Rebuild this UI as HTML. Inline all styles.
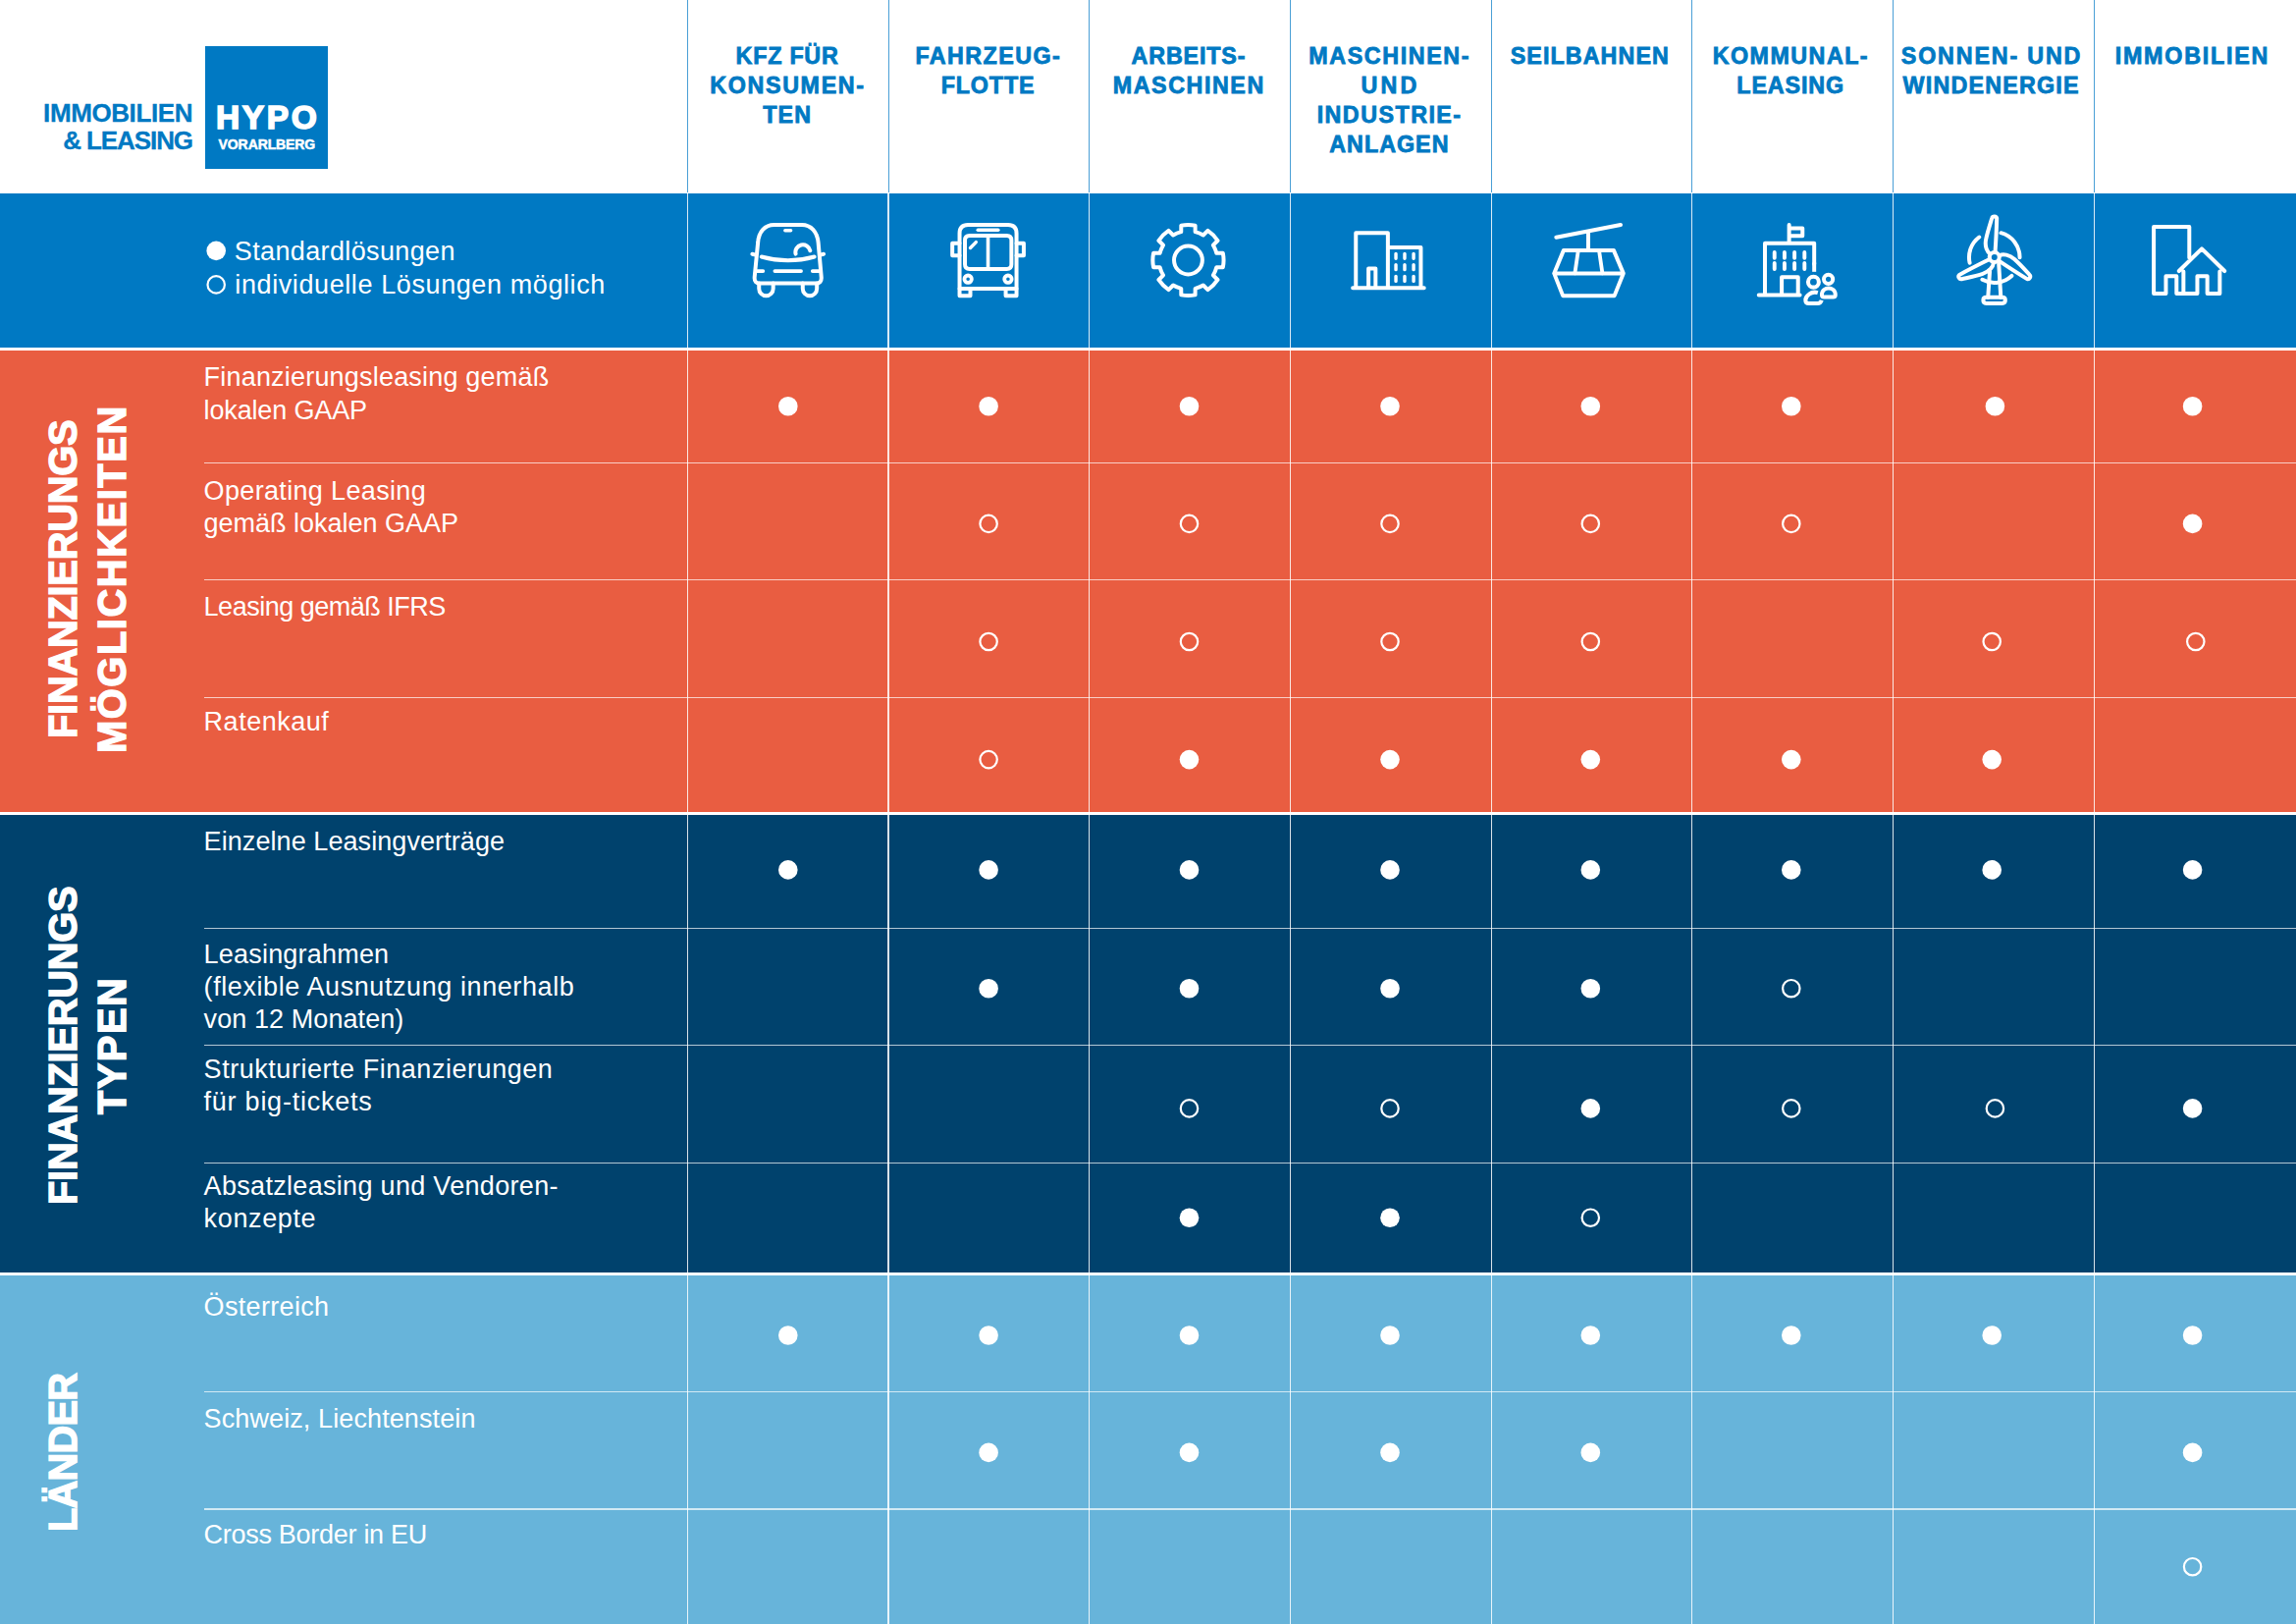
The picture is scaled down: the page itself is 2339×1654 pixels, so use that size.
<!DOCTYPE html>
<html lang="de"><head><meta charset="utf-8"><title>Hypo Vorarlberg Immobilien &amp; Leasing</title>
<style>
html,body{margin:0;padding:0;background:#fff}
body{width:2339px;height:1654px;font-family:"Liberation Sans",sans-serif}
#page{position:relative;width:2339px;height:1654px;overflow:hidden;background:#fff}
.a{position:absolute}
.band{position:absolute;left:0;width:2339px}
.t{position:absolute;white-space:pre;color:#fff;font-size:27px;line-height:33px;height:33px}
.h{position:absolute;white-space:pre;color:#0079C3;font-weight:700;font-size:23.3px;line-height:30px;text-align:center;-webkit-text-stroke:0.8px #0079C3}
.v{position:absolute;white-space:pre;color:#fff;font-weight:700;font-size:39.8px;line-height:39.8px;transform-origin:0 0;transform:rotate(-90deg);-webkit-text-stroke:1.4px #fff}
.vl{position:absolute;width:1.3px;background:rgba(255,255,255,.85)}
.hl{position:absolute;height:1.3px;background:rgba(255,255,255,.7);left:208.3px;right:0}
svg{position:absolute;left:0;top:0}

</style></head><body><div id="page">
<div class="band" style="top:197.4px;height:156.8px;background:#0079C3"></div>
<div class="band" style="top:357.2px;height:469.8px;background:#E95D41"></div>
<div class="band" style="top:830px;height:466.3px;background:#00426D"></div>
<div class="band" style="top:1299.3px;height:354.7px;background:#67B4DA"></div>
<div class="a" style="left:699.8px;top:0;width:1.2px;height:196.4px;background:#4a9fd6"></div>
<div class="vl" style="left:699.8px;top:197.4px;height:1456.6px"></div>
<div class="a" style="left:904.5px;top:0;width:1.2px;height:196.4px;background:#4a9fd6"></div>
<div class="vl" style="left:904.4px;top:197.4px;height:1456.6px"></div>
<div class="a" style="left:1109.2px;top:0;width:1.2px;height:196.4px;background:#4a9fd6"></div>
<div class="vl" style="left:1109.1px;top:197.4px;height:1456.6px"></div>
<div class="a" style="left:1313.9px;top:0;width:1.2px;height:196.4px;background:#4a9fd6"></div>
<div class="vl" style="left:1313.8px;top:197.4px;height:1456.6px"></div>
<div class="a" style="left:1518.6px;top:0;width:1.2px;height:196.4px;background:#4a9fd6"></div>
<div class="vl" style="left:1518.5px;top:197.4px;height:1456.6px"></div>
<div class="a" style="left:1723.3px;top:0;width:1.2px;height:196.4px;background:#4a9fd6"></div>
<div class="vl" style="left:1723.2px;top:197.4px;height:1456.6px"></div>
<div class="a" style="left:1928.0px;top:0;width:1.2px;height:196.4px;background:#4a9fd6"></div>
<div class="vl" style="left:1927.9px;top:197.4px;height:1456.6px"></div>
<div class="a" style="left:2132.7px;top:0;width:1.2px;height:196.4px;background:#4a9fd6"></div>
<div class="vl" style="left:2132.6px;top:197.4px;height:1456.6px"></div>
<div class="hl" style="top:470.5px"></div>
<div class="hl" style="top:589.9px"></div>
<div class="hl" style="top:709.6px"></div>
<div class="hl" style="top:944.6px"></div>
<div class="hl" style="top:1064.1px"></div>
<div class="hl" style="top:1183.6px"></div>
<div class="hl" style="top:1416.6px"></div>
<div class="hl" style="top:1536.4px"></div>
<div class="a" style="left:209px;top:46.7px;width:125px;height:125px;background:#0079C3"></div>
<div class="h" style="left:0.0px;top:101.2px;letter-spacing:-0.41px;font-size:26px;line-height:28px;height:28px;width:196px;text-align:right;-webkit-text-stroke:0.3px #0079C3;">IMMOBILIEN</div>
<div class="h" style="left:0.0px;top:129.4px;letter-spacing:-1.08px;font-size:26px;line-height:28px;height:28px;width:196px;text-align:right;-webkit-text-stroke:0.3px #0079C3;">&amp; LEASING</div>
<div class="h" style="left:219.9px;top:101.7px;letter-spacing:2.7px;font-size:33.5px;line-height:36px;height:36px;color:#fff;-webkit-text-stroke:1.6px #fff;text-align:left;">HYPO</div>
<div class="h" style="left:222.6px;top:139.4px;letter-spacing:-0.1px;font-size:14px;line-height:16px;height:16px;color:#fff;-webkit-text-stroke:0.5px #fff;text-align:left;">VORARLBERG</div>
<div class="h" style="left:699.7px;width:204px;top:42.1px;letter-spacing:0.76px;text-indent:0.76px">KFZ FÜR</div>
<div class="h" style="left:699.7px;width:204px;top:72.1px;letter-spacing:1.63px;text-indent:1.63px">KONSUMEN-</div>
<div class="h" style="left:699.7px;width:204px;top:102.1px;letter-spacing:1.12px;text-indent:1.12px">TEN</div>
<div class="h" style="left:904.1px;width:204px;top:42.1px;letter-spacing:1.42px;text-indent:1.42px">FAHRZEUG-</div>
<div class="h" style="left:904.1px;width:204px;top:72.1px;letter-spacing:0.85px;text-indent:0.85px">FLOTTE</div>
<div class="h" style="left:1108.5px;width:204px;top:42.1px;letter-spacing:0.83px;text-indent:0.83px">ARBEITS-</div>
<div class="h" style="left:1108.5px;width:204px;top:72.1px;letter-spacing:1.56px;text-indent:1.56px">MASCHINEN</div>
<div class="h" style="left:1312.9px;width:204px;top:42.1px;letter-spacing:1.6px;text-indent:1.6px">MASCHINEN-</div>
<div class="h" style="left:1312.9px;width:204px;top:72.1px;letter-spacing:3.21px;text-indent:3.21px">UND</div>
<div class="h" style="left:1312.9px;width:204px;top:102.1px;letter-spacing:1.46px;text-indent:1.46px">INDUSTRIE-</div>
<div class="h" style="left:1312.9px;width:204px;top:132.1px;letter-spacing:1.01px;text-indent:1.01px">ANLAGEN</div>
<div class="h" style="left:1517.3px;width:204px;top:42.1px;letter-spacing:1.07px;text-indent:1.07px">SEILBAHNEN</div>
<div class="h" style="left:1721.7px;width:204px;top:42.1px;letter-spacing:1.46px;text-indent:1.46px">KOMMUNAL-</div>
<div class="h" style="left:1721.7px;width:204px;top:72.1px;letter-spacing:0.87px;text-indent:0.87px">LEASING</div>
<div class="h" style="left:1926.1px;width:204px;top:42.1px;letter-spacing:1.82px;text-indent:1.82px">SONNEN- UND</div>
<div class="h" style="left:1926.1px;width:204px;top:72.1px;letter-spacing:1.2px;text-indent:1.2px">WINDENERGIE</div>
<div class="h" style="left:2130.5px;width:204px;top:42.1px;letter-spacing:1.75px;text-indent:1.75px">IMMOBILIEN</div>
<div class="t" style="left:238.8px;top:239.7px;letter-spacing:0.37px;">Standardlösungen</div>
<div class="t" style="left:239.3px;top:273.9px;letter-spacing:0.6px;">individuelle Lösungen möglich</div>
<div class="t" style="left:207.6px;top:368.2px;letter-spacing:0.196px;">Finanzierungsleasing gemäß</div>
<div class="t" style="left:207.6px;top:401.8px;letter-spacing:-0.152px;">lokalen GAAP</div>
<div class="t" style="left:207.6px;top:484.2px;letter-spacing:0.34px;">Operating Leasing</div>
<div class="t" style="left:207.6px;top:516.5px;letter-spacing:-0.019px;">gemäß lokalen GAAP</div>
<div class="t" style="left:207.6px;top:601.8px;letter-spacing:-0.499px;">Leasing gemäß IFRS</div>
<div class="t" style="left:207.6px;top:719.4px;letter-spacing:0.52px;">Ratenkauf</div>
<div class="t" style="left:207.6px;top:841.3px;letter-spacing:0.074px;">Einzelne Leasingverträge</div>
<div class="t" style="left:207.6px;top:955.8px;letter-spacing:0.2px;">Leasingrahmen</div>
<div class="t" style="left:207.6px;top:988.7px;letter-spacing:0.583px;">(flexible Ausnutzung innerhalb</div>
<div class="t" style="left:207.6px;top:1022.2px;letter-spacing:0.081px;">von 12 Monaten)</div>
<div class="t" style="left:207.6px;top:1073.4px;letter-spacing:0.539px;">Strukturierte Finanzierungen</div>
<div class="t" style="left:207.6px;top:1106.3px;letter-spacing:0.751px;">für big-tickets</div>
<div class="t" style="left:207.6px;top:1192.2px;letter-spacing:0.312px;">Absatzleasing und Vendoren-</div>
<div class="t" style="left:207.6px;top:1224.5px;letter-spacing:0.633px;">konzepte</div>
<div class="t" style="left:207.6px;top:1314.5px;letter-spacing:0.327px;">Österreich</div>
<div class="t" style="left:207.6px;top:1428.9px;letter-spacing:0.104px;">Schweiz, Liechtenstein</div>
<div class="t" style="left:207.6px;top:1546.5px;letter-spacing:-0.289px;">Cross Border in EU</div>
<div class="v" style="left:45.3px;top:752.0px;letter-spacing:-0.23px;font-size:39.8px;line-height:39.8px">FINANZIERUNGS</div>
<div class="v" style="left:95.2px;top:766.6px;letter-spacing:1.61px;font-size:39.8px;line-height:39.8px">MÖGLICHKEITEN</div>
<div class="v" style="left:45.3px;top:1226.5px;letter-spacing:-0.23px;font-size:39.8px;line-height:39.8px">FINANZIERUNGS</div>
<div class="v" style="left:95.2px;top:1134.6px;letter-spacing:1.5px;font-size:39.8px;line-height:39.8px">TYPEN</div>
<div class="v" style="left:45.3px;top:1559.8px;letter-spacing:-0.75px;font-size:39.8px;line-height:39.8px">LÄNDER</div>
<svg width="2339" height="1654" viewBox="0 0 2339 1654">
<circle cx="220.2" cy="255.4" r="9.8" fill="#fff"/>
<circle cx="220.2" cy="289.9" r="8.7" fill="none" stroke="#fff" stroke-width="2.2"/>
<circle cx="802.8" cy="413.7" r="9.8" fill="#fff"/>
<circle cx="1007.1" cy="413.7" r="9.8" fill="#fff"/>
<circle cx="1211.5" cy="413.7" r="9.8" fill="#fff"/>
<circle cx="1416.0" cy="413.7" r="9.8" fill="#fff"/>
<circle cx="1620.3" cy="413.7" r="9.8" fill="#fff"/>
<circle cx="1824.8" cy="413.7" r="9.8" fill="#fff"/>
<circle cx="2032.4" cy="413.7" r="9.8" fill="#fff"/>
<circle cx="2233.6" cy="413.7" r="9.8" fill="#fff"/>
<circle cx="1007.1" cy="533.4" r="8.7" fill="none" stroke="#fff" stroke-width="2.2"/>
<circle cx="1211.5" cy="533.4" r="8.7" fill="none" stroke="#fff" stroke-width="2.2"/>
<circle cx="1416.0" cy="533.4" r="8.7" fill="none" stroke="#fff" stroke-width="2.2"/>
<circle cx="1620.3" cy="533.4" r="8.7" fill="none" stroke="#fff" stroke-width="2.2"/>
<circle cx="1824.8" cy="533.4" r="8.7" fill="none" stroke="#fff" stroke-width="2.2"/>
<circle cx="2233.6" cy="533.4" r="9.8" fill="#fff"/>
<circle cx="1007.1" cy="653.5" r="8.7" fill="none" stroke="#fff" stroke-width="2.2"/>
<circle cx="1211.5" cy="653.5" r="8.7" fill="none" stroke="#fff" stroke-width="2.2"/>
<circle cx="1416.0" cy="653.5" r="8.7" fill="none" stroke="#fff" stroke-width="2.2"/>
<circle cx="1620.3" cy="653.5" r="8.7" fill="none" stroke="#fff" stroke-width="2.2"/>
<circle cx="2029.2" cy="653.5" r="8.7" fill="none" stroke="#fff" stroke-width="2.2"/>
<circle cx="2236.8" cy="653.5" r="8.7" fill="none" stroke="#fff" stroke-width="2.2"/>
<circle cx="1007.1" cy="773.6" r="8.7" fill="none" stroke="#fff" stroke-width="2.2"/>
<circle cx="1211.5" cy="773.6" r="9.8" fill="#fff"/>
<circle cx="1416.0" cy="773.6" r="9.8" fill="#fff"/>
<circle cx="1620.3" cy="773.6" r="9.8" fill="#fff"/>
<circle cx="1824.8" cy="773.6" r="9.8" fill="#fff"/>
<circle cx="2029.2" cy="773.6" r="9.8" fill="#fff"/>
<circle cx="802.8" cy="885.9" r="9.8" fill="#fff"/>
<circle cx="1007.1" cy="885.9" r="9.8" fill="#fff"/>
<circle cx="1211.5" cy="885.9" r="9.8" fill="#fff"/>
<circle cx="1416.0" cy="885.9" r="9.8" fill="#fff"/>
<circle cx="1620.3" cy="885.9" r="9.8" fill="#fff"/>
<circle cx="1824.8" cy="885.9" r="9.8" fill="#fff"/>
<circle cx="2029.2" cy="885.9" r="9.8" fill="#fff"/>
<circle cx="2233.6" cy="885.9" r="9.8" fill="#fff"/>
<circle cx="1007.1" cy="1006.7" r="9.8" fill="#fff"/>
<circle cx="1211.5" cy="1006.7" r="9.8" fill="#fff"/>
<circle cx="1416.0" cy="1006.7" r="9.8" fill="#fff"/>
<circle cx="1620.3" cy="1006.7" r="9.8" fill="#fff"/>
<circle cx="1824.8" cy="1006.7" r="8.7" fill="none" stroke="#fff" stroke-width="2.2"/>
<circle cx="1211.5" cy="1128.9" r="8.7" fill="none" stroke="#fff" stroke-width="2.2"/>
<circle cx="1416.0" cy="1128.9" r="8.7" fill="none" stroke="#fff" stroke-width="2.2"/>
<circle cx="1620.3" cy="1128.9" r="9.8" fill="#fff"/>
<circle cx="1824.8" cy="1128.9" r="8.7" fill="none" stroke="#fff" stroke-width="2.2"/>
<circle cx="2032.4" cy="1128.9" r="8.7" fill="none" stroke="#fff" stroke-width="2.2"/>
<circle cx="2233.6" cy="1128.9" r="9.8" fill="#fff"/>
<circle cx="1211.5" cy="1240.2" r="9.8" fill="#fff"/>
<circle cx="1416.0" cy="1240.2" r="9.8" fill="#fff"/>
<circle cx="1620.3" cy="1240.2" r="8.7" fill="none" stroke="#fff" stroke-width="2.2"/>
<circle cx="802.8" cy="1360.0" r="9.8" fill="#fff"/>
<circle cx="1007.1" cy="1360.0" r="9.8" fill="#fff"/>
<circle cx="1211.5" cy="1360.0" r="9.8" fill="#fff"/>
<circle cx="1416.0" cy="1360.0" r="9.8" fill="#fff"/>
<circle cx="1620.3" cy="1360.0" r="9.8" fill="#fff"/>
<circle cx="1824.8" cy="1360.0" r="9.8" fill="#fff"/>
<circle cx="2029.2" cy="1360.0" r="9.8" fill="#fff"/>
<circle cx="2233.6" cy="1360.0" r="9.8" fill="#fff"/>
<circle cx="1007.1" cy="1479.4" r="9.8" fill="#fff"/>
<circle cx="1211.5" cy="1479.4" r="9.8" fill="#fff"/>
<circle cx="1416.0" cy="1479.4" r="9.8" fill="#fff"/>
<circle cx="1620.3" cy="1479.4" r="9.8" fill="#fff"/>
<circle cx="2233.6" cy="1479.4" r="9.8" fill="#fff"/>
<circle cx="2233.6" cy="1595.7" r="8.7" fill="none" stroke="#fff" stroke-width="2.2"/>
<g fill="none" stroke="#fff" stroke-linecap="round" stroke-linejoin="round">
<path d="M 768.69 282.31 L 772.14 247.04 C 772.93 236.06 779.20 229.01 788.60 229.01 L 816.83 229.01 C 826.23 229.01 832.51 236.06 833.60 247.04 L 836.74 282.31 Q 837.21 288.59 830.94 288.59 L 774.49 288.59 Q 768.22 288.59 768.69 282.31 Z" stroke-width="4.0" />
<path d="M 766.34 258.80 L 769.79 259.58 M 835.64 259.58 L 839.09 258.80" stroke-width="4.0" />
<path d="M 775.75 261.46 Q 802.72 268.99 829.68 261.46" stroke-width="4.0" />
<path d="M 810.56 258.64 A 7.37 7.37 0 1 1 825.29 255.19" stroke-width="4.0" />
<path d="M 799.89 234.81 L 805.54 234.81" stroke-width="3.6" />
<path d="M 771.36 276.04 L 777.32 276.04 M 789.39 276.04 L 816.04 276.04 M 827.80 276.04 L 834.39 276.04" stroke-width="3.8" />
<path d="M 773.24 288.59 L 773.24 294.07 A 7.21 7.21 0 0 0 787.66 294.07 L 787.66 288.59 M 817.77 288.59 L 817.77 294.07 A 7.21 7.21 0 0 0 832.19 294.07 L 832.19 288.59" stroke-width="4.0" />
<path d="M 977.54 294.07 L 977.54 237.63 Q 977.54 229.01 986.16 229.01 L 1026.92 229.01 Q 1035.55 229.01 1035.55 237.63 L 1035.55 294.07 Z" stroke-width="4.0" />
<path d="M 977.54 294.07 L 977.54 301.13 L 988.51 301.13 L 988.51 294.07 M 1024.57 294.07 L 1024.57 301.13 L 1035.55 301.13 L 1035.55 294.07" stroke-width="4.0" />
<path d="M 987.73 239.98 L 1025.67 239.98 Q 1030.37 239.98 1030.37 244.68 L 1030.37 269.30 Q 1030.37 274.00 1025.67 274.00 L 987.73 274.00 Q 983.02 274.00 983.02 269.30 L 983.02 244.68 Q 983.02 239.98 987.73 239.98 Z" stroke-width="4.0" />
<path d="M 1006.54 239.98 L 1006.54 274.00" stroke-width="3.6" />
<path d="M 988.51 252.52 L 994.31 246.57" stroke-width="3.4" />
<path d="M 996.19 234.18 L 1016.89 234.18" stroke-width="3.4" />
<path d="M 977.54 247.82 L 970.17 247.82 L 970.17 260.36 L 977.54 260.36 M 1035.55 247.82 L 1042.92 247.82 L 1042.92 260.36 L 1035.55 260.36" stroke-width="4.0" />
<circle cx="986.16" cy="284.20" r="3.7" stroke-width="3.8"/>
<circle cx="1026.92" cy="284.20" r="3.7" stroke-width="3.8"/>
<path d="M 1203.26 236.18 L 1203.31 229.61 A 36.10 36.10 0 0 1 1217.59 229.61 L 1217.64 236.18 A 29.70 29.70 0 0 1 1225.75 239.54 L 1230.43 234.93 A 36.10 36.10 0 0 1 1240.52 245.02 L 1235.91 249.70 A 29.70 29.70 0 0 1 1239.27 257.81 L 1245.84 257.86 A 36.10 36.10 0 0 1 1245.84 272.14 L 1239.27 272.19 A 29.70 29.70 0 0 1 1235.91 280.30 L 1240.52 284.98 A 36.10 36.10 0 0 1 1230.43 295.07 L 1225.75 290.46 A 29.70 29.70 0 0 1 1217.64 293.82 L 1217.59 300.39 A 36.10 36.10 0 0 1 1203.31 300.39 L 1203.26 293.82 A 29.70 29.70 0 0 1 1195.15 290.46 L 1190.47 295.07 A 36.10 36.10 0 0 1 1180.38 284.98 L 1184.99 280.30 A 29.70 29.70 0 0 1 1181.63 272.19 L 1175.06 272.14 A 36.10 36.10 0 0 1 1175.06 257.86 L 1181.63 257.81 A 29.70 29.70 0 0 1 1184.99 249.70 L 1180.38 245.02 A 36.10 36.10 0 0 1 1190.47 234.93 L 1195.15 239.54 A 29.70 29.70 0 0 1 1203.26 236.18 Z" stroke-width="4"/>
<circle cx="1210.45" cy="265.00" r="14.42" stroke-width="4"/>
<path d="M 1381.26 293.29 L 1381.26 237.32 L 1413.88 237.32 L 1413.88 293.29 M 1413.88 252.05 L 1447.43 252.05 L 1447.43 293.29 M 1378.13 293.29 L 1450.72 293.29 M 1394.12 293.29 L 1394.12 273.38 L 1401.33 273.38 L 1401.33 293.29" stroke-width="4.0" />
<path d="M 1422.03 258.33 L 1422.03 263.34 M 1422.03 269.61 L 1422.03 274.63 M 1422.03 281.37 L 1422.03 286.39 M 1430.97 258.33 L 1430.97 263.34 M 1430.97 269.61 L 1430.97 274.63 M 1430.97 281.37 L 1430.97 286.39 M 1440.06 258.33 L 1440.06 263.34 M 1440.06 269.61 L 1440.06 274.63 M 1440.06 281.37 L 1440.06 286.39" stroke-width="3.4" />
<path d="M 1585.40 241.71 L 1650.94 229.01" stroke-width="4.2" />
<path d="M 1618.01 236.38 L 1618.01 254.88" stroke-width="4.0" />
<path d="M 1592.93 254.88 L 1643.88 254.88 L 1653.76 278.39 L 1644.67 301.13 L 1592.14 301.13 L 1583.20 278.39 Z M 1583.20 278.39 L 1653.76 278.39" stroke-width="4.0" />
<path d="M 1607.82 254.88 L 1604.37 278.39 M 1628.99 254.88 L 1632.44 278.39" stroke-width="3.8" />
<path d="M 1848.18 268.99 L 1848.18 247.82 L 1798.01 247.82 L 1798.01 300.34 M 1791.73 300.50 L 1833.60 300.50 M 1822.62 247.82 L 1822.62 229.01 M 1822.62 232.61 L 1836.26 232.61 L 1836.26 240.29 L 1822.62 240.29 M 1815.10 300.34 L 1815.10 282.16 L 1831.72 282.16 L 1831.72 300.34" stroke-width="4.0" />
<path d="M 1807.73 256.91 L 1807.73 262.87 M 1807.73 268.05 L 1807.73 274.00 M 1817.92 256.91 L 1817.92 262.87 M 1817.92 268.05 L 1817.92 274.00 M 1828.11 256.91 L 1828.11 262.87 M 1828.11 268.05 L 1828.11 274.00 M 1838.30 256.91 L 1838.30 262.87 M 1838.30 268.05 L 1838.30 274.00" stroke-width="3.9" />
<path d="M 1848.18 267.42 L 1848.18 276.83" stroke-width="4" stroke-linecap="butt"/>
<circle cx="1847.43" cy="287.18" r="5.45" stroke-width="4.1"/>
<circle cx="1862.60" cy="284.30" r="4.6" stroke-width="4.0"/>
<path d="M 1851.83 298.12 C 1849.80 297.51 1845.74 297.51 1843.03 299.54 C 1840.66 301.23 1839.30 303.27 1839.30 305.64 Q 1839.30 309.02 1842.69 309.02 L 1851.83 309.02 Q 1854.88 309.02 1855.73 305.81" stroke-width="4.0" stroke-linecap="butt"/>
<path d="M 1855.96 300.22 C 1855.96 295.48 1859.96 293.45 1862.87 293.45 C 1865.78 293.45 1869.78 295.48 1869.78 300.22 Q 1869.78 302.52 1867.41 302.52 L 1858.27 302.52 Q 1855.96 302.52 1855.96 300.22 Z" stroke-width="4.0" />
<path d="M 2027.41 258.64 C 2024.08 256.20 2021.64 250.44 2023.24 243.39 C 2024.72 236.34 2027.28 228.66 2029.20 222.25 C 2029.84 219.82 2033.69 219.82 2034.20 222.25 C 2034.01 231.22 2033.17 247.23 2032.53 256.84" stroke-width="4.0" />
<g transform="rotate(120 2031.76 262.10)"><path d="M 2027.41 258.64 C 2024.08 256.20 2021.64 250.44 2023.24 243.39 C 2024.72 236.34 2027.28 228.66 2029.20 222.25 C 2029.84 219.82 2033.69 219.82 2034.20 222.25 C 2034.01 231.22 2033.17 247.23 2032.53 256.84" stroke-width="4.0" /></g>
<g transform="rotate(240 2031.76 262.10)"><path d="M 2027.41 258.64 C 2024.08 256.20 2021.64 250.44 2023.24 243.39 C 2024.72 236.34 2027.28 228.66 2029.20 222.25 C 2029.84 219.82 2033.69 219.82 2034.20 222.25 C 2034.01 231.22 2033.17 247.23 2032.53 256.84" stroke-width="4.0" /></g>
<circle cx="2031.76" cy="262.10" r="5.0" stroke-width="4"/>
<path d="M 2016.24 241.49 A 25.80 25.80 0 0 0 2006.58 267.68" stroke-width="4"/>
<path d="M 2038.44 237.18 A 25.80 25.80 0 0 1 2057.56 262.32" stroke-width="4"/>
<path d="M 2019.45 284.77 A 25.80 25.80 0 0 0 2049.36 280.97" stroke-width="4"/>
<path d="M 2027.02 276.70 L 2025.23 302.97 M 2036.25 269.01 L 2038.30 302.97" stroke-width="4" />
<path d="M 2023.44 302.78 L 2039.77 302.78 Q 2042.85 302.78 2042.85 305.85 Q 2042.85 308.93 2039.77 308.93 L 2023.44 308.93 Q 2020.36 308.93 2020.36 305.85 Q 2020.36 302.78 2023.44 302.78 Z" stroke-width="4" />
<path d="M 2230.30 262.40 L 2230.30 231.04 L 2194.09 231.04 L 2194.09 299.09 L 2206.47 299.09 L 2206.47 281.22 L 2217.29 281.22 L 2217.29 299.09 L 2238.46 299.09 L 2238.46 281.22 L 2248.65 281.22 L 2248.65 299.09 L 2261.35 299.09 L 2261.35 276.51 M 2224.35 276.51 L 2224.35 299.09 M 2219.80 276.04 L 2243.00 253.31 L 2266.21 276.04" stroke-width="4.0" />
</g></svg>
</div></body></html>
